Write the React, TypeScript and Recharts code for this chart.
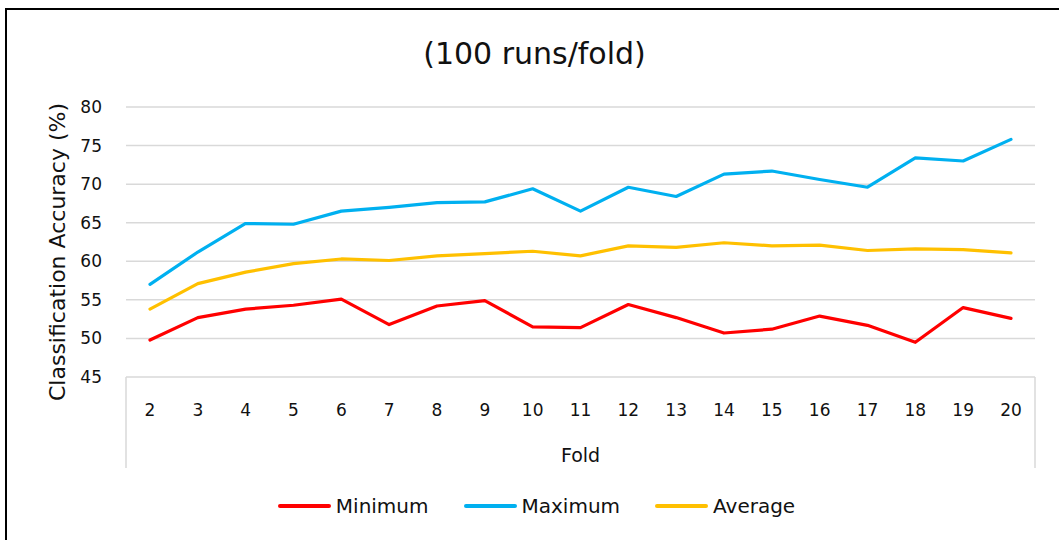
import React from "react";
import { LineChart, Line, XAxis, YAxis, CartesianGrid, Legend } from "recharts";

const folds = ["2","3","4","5","6","7","8","9","10","11","12","13","14","15","16","17","18","19","20"];
const minimum = [49.8,52.7,53.8,54.3,55.1,51.8,54.2,54.9,51.5,51.4,54.4,52.7,50.7,51.2,52.9,51.7,49.5,54.0,52.6];
const maximum = [57.0,61.2,64.9,64.8,66.5,67.0,67.6,67.7,69.4,66.5,69.6,68.4,71.3,71.7,70.6,69.6,73.4,73.0,75.8];
const average = [53.8,57.1,58.6,59.7,60.3,60.1,60.7,61.0,61.3,60.7,62.0,61.8,62.4,62.0,62.1,61.4,61.6,61.5,61.1];
const seriesOrder = ["Minimum", "Maximum", "Average"];
const yTicks = [45, 50, 55, 60, 65, 70, 75, 80];

const data = folds.map((f, i) => ({
  fold: f,
  Minimum: minimum[i],
  Maximum: maximum[i],
  Average: average[i],
}));

const FONT = "'DejaVu Sans', sans-serif";
const GRID = "#D9D9D9";
const TEXT = "#111";

const XTick = (props: any) => {
  const { x, y, payload } = props;
  return (
    <text x={x} y={y + 25} textAnchor="middle" dominantBaseline="central" fontFamily={FONT} fontSize={17} fill={TEXT}>
      {payload.value}
    </text>
  );
};

const XLabel = (props: any) => {
  const vb = props.viewBox || {};
  const { x, y, width, height } = vb;
  return (
    <g>
      <line x1={x} y1={y} x2={x} y2={y + height} stroke={GRID} strokeWidth={1.5} />
      <line x1={x + width} y1={y} x2={x + width} y2={y + height} stroke={GRID} strokeWidth={1.5} />
      <text x={x + width / 2} y={y + height - 13} textAnchor="middle" dominantBaseline="central" fontFamily={FONT} fontSize={19} fill={TEXT}>
        Fold
      </text>
    </g>
  );
};

const YLabel = (props: any) => {
  const vb = props.viewBox || {};
  const { x, y, height } = vb;
  const cx = x + 1;
  const cy = y + height / 2 + 10;
  return (
    <text x={cx} y={cy} transform={`rotate(-90 ${cx} ${cy})`} textAnchor="middle" dominantBaseline="central" fontFamily={FONT} fontSize={22} fill={TEXT}>
      Classification Accuracy (%)
    </text>
  );
};

const LegendContent = (props: any) => {
  const payload = props.payload || [];
  const ordered = seriesOrder
    .map((name) => payload.find((p: any) => p.value === name || p.dataKey === name))
    .filter(Boolean);
  return (
    <div style={{ display: "flex", justifyContent: "center", alignItems: "center", height: 30, paddingLeft: 14 }}>
      {ordered.map((p: any, i: number) => (
        <div key={i} style={{ display: "flex", alignItems: "center", marginRight: i < ordered.length - 1 ? 35 : 0 }}>
          <div style={{ width: 53, height: 4, background: p.color, borderRadius: 2, marginRight: 5 }} />
          <span style={{ fontFamily: FONT, fontSize: 20, color: TEXT, lineHeight: "30px" }}>{p.value}</span>
        </div>
      ))}
    </div>
  );
};

export default function App() {
  return (
    <div style={{ position: "absolute", left: 0, top: 0, width: 1059, height: 540, background: "#fff", overflow: "hidden" }}>
      <div style={{ position: "absolute", left: 5, top: 8, width: 1100, height: 600, borderTop: "2px solid #000", borderLeft: "2px solid #000", boxSizing: "border-box" }} />
      <div style={{ position: "absolute", left: 0, top: 34, width: 1069, textAlign: "center", fontFamily: FONT, fontSize: 30, color: TEXT, lineHeight: "40px" }}>
        (100 runs/fold)
      </div>
      <div style={{ position: "absolute", left: 0, top: 0 }}>
        <LineChart width={1059} height={540} data={data} margin={{ top: 107, right: 24, bottom: 42, left: 56 }}>
          <CartesianGrid vertical={false} stroke={GRID} strokeWidth={1.5} />
          <XAxis
            dataKey="fold"
            height={91}
            padding={{ left: 24, right: 24 }}
            axisLine={false}
            tickLine={false}
            tick={<XTick />}
            interval={0}
            label={<XLabel />}
          />
          <YAxis
            domain={[45, 80]}
            ticks={yTicks}
            width={70}
            axisLine={false}
            tickLine={false}
            tickMargin={18}
            tick={{ fontFamily: FONT, fontSize: 17, fill: TEXT }}
            label={<YLabel />}
          />
          <Legend
            verticalAlign="bottom"
            content={<LegendContent />}
            wrapperStyle={{ position: "absolute", left: 0, top: 491, width: 1059, bottom: "auto" }}
          />
          <Line type="linear" dataKey="Minimum" stroke="#FF0000" strokeWidth={3.2} dot={false} isAnimationActive={false} strokeLinejoin="round" strokeLinecap="round" />
          <Line type="linear" dataKey="Maximum" stroke="#00B0F0" strokeWidth={3.2} dot={false} isAnimationActive={false} strokeLinejoin="round" strokeLinecap="round" />
          <Line type="linear" dataKey="Average" stroke="#FFC000" strokeWidth={3.2} dot={false} isAnimationActive={false} strokeLinejoin="round" strokeLinecap="round" />
        </LineChart>
      </div>
    </div>
  );
}
